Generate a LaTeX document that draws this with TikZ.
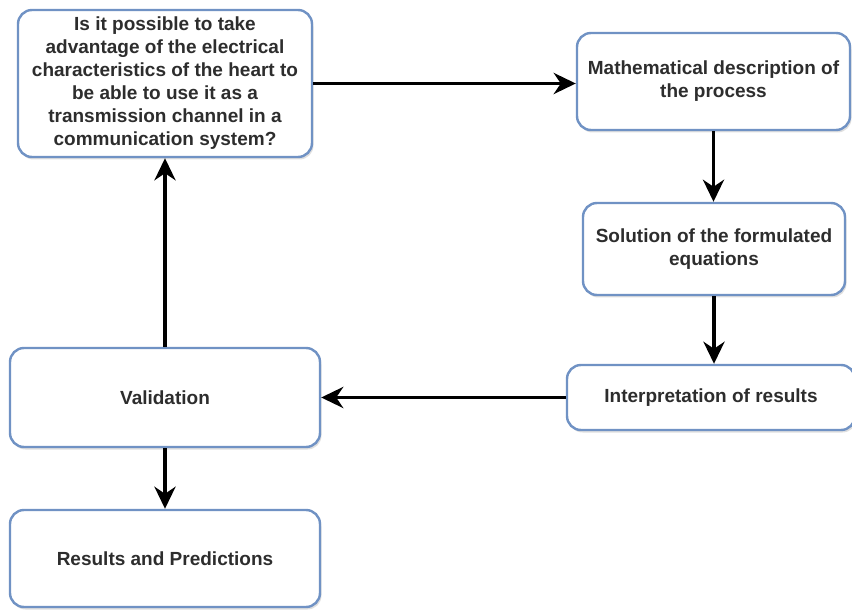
\documentclass[tikz,border=0pt]{standalone}
\usepackage{fontspec}
\setmainfont{Liberation Sans}
\usetikzlibrary{arrows.meta,shadows}
\definecolor{boxblue}{RGB}{112,146,196}
\definecolor{txt}{RGB}{45,45,45}
\tikzset{
  flowbox/.style={draw=boxblue, line width=2.4pt, rounded corners=14pt, fill=white,
    drop shadow={opacity=0.25, shadow xshift=1.5pt, shadow yshift=-2.5pt},
    align=center, text=txt, font=\fontsize{19}{23}\selectfont\bfseries, inner sep=3pt},
  arr/.style={-{Stealth[length=22pt,width=21pt,inset=7pt]}, line width=3.8pt, black}
}
\begin{document}
\begin{tikzpicture}[x=1pt,y=-1pt]
\useasboundingbox (0,0) rectangle (852,612);
\node[flowbox, minimum width=294pt, minimum height=147pt] (q) at (165,83.5)
  {Is it possible to take\\advantage of the electrical\\characteristics of the heart to\\be able to use it as a\\transmission channel in a\\communication system?};
\node[flowbox, minimum width=273pt, minimum height=97pt] (m) at (713.5,81.5)
  {Mathematical description of\\the process};
\node[flowbox, minimum width=262pt, minimum height=92pt] (s) at (714,249)
  {Solution of the formulated\\equations};
\node[flowbox, minimum width=288pt, minimum height=65pt] (i) at (711,397.5)
  {Interpretation of results};
\node[flowbox, minimum width=310pt, minimum height=99pt] (v) at (165,397.5)
  {Validation};
\node[flowbox, minimum width=310pt, minimum height=97pt] (r) at (165,558.5)
  {Results and Predictions};
\draw[arr] (q.east) -- (q.east -| m.west);
\draw[arr] (m.south) -- (m.south |- s.north);
\draw[arr] (s.south) -- (s.south |- i.north);
\draw[arr] (i.west) -- (i.west -| v.east);
\draw[arr] (v.north) -- (q.south);
\draw[arr] (v.south) -- (r.north);
\end{tikzpicture}
\end{document}
